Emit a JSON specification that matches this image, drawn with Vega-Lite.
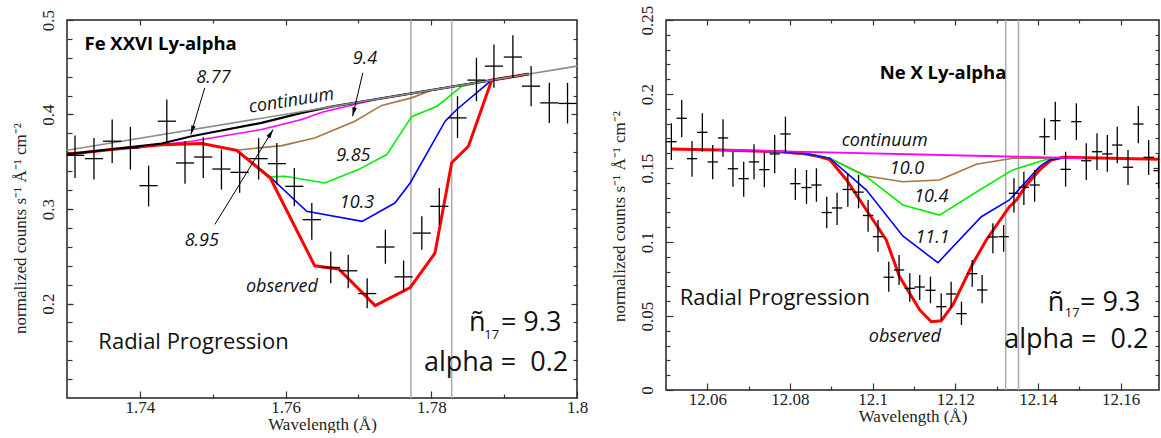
{
"$schema": "https://vega.github.io/schema/vega-lite/v6.json",
"padding": {"left": 10, "top": 4, "right": 0, "bottom": 0},
"spacing": 20,
"background": "white",
"config": {
  "view": {"stroke": "#222", "strokeWidth": 1.5},
  "axis": {"domain": false, "grid": false, "labelFont": "Liberation Serif", "titleFont": "Liberation Serif", "labelFontSize": 17, "titleFontSize": 17, "labelColor": "#222", "titleColor": "#222", "tickColor": "#333", "tickWidth": 1.2, "titleFontWeight": "normal", "labelFlush": false, "labelOverlap": false}
},
"datasets": {
  "fe_obs": [
    {"wl":1.7311,"wl0":1.72985,"wl1":1.73235,"v":0.3568,"lo":0.3328,"hi":0.3777},
    {"wl":1.7337,"wl0":1.73245,"wl1":1.73495,"v":0.3533,"lo":0.3311,"hi":0.3752},
    {"wl":1.7362,"wl0":1.73495,"wl1":1.73745,"v":0.3717,"lo":0.3487,"hi":0.3947},
    {"wl":1.7387,"wl0":1.73745,"wl1":1.73995,"v":0.3646,"lo":0.3417,"hi":0.3869},
    {"wl":1.7412,"wl0":1.73995,"wl1":1.74245,"v":0.3247,"lo":0.3028,"hi":0.3459},
    {"wl":1.7437,"wl0":1.74245,"wl1":1.74495,"v":0.3929,"lo":0.3699,"hi":0.4159},
    {"wl":1.7462,"wl0":1.74495,"wl1":1.74745,"v":0.3487,"lo":0.3268,"hi":0.3717},
    {"wl":1.7487,"wl0":1.74745,"wl1":1.74995,"v":0.3550,"lo":0.3328,"hi":0.3759},
    {"wl":1.7512,"wl0":1.74995,"wl1":1.75245,"v":0.3423,"lo":0.3205,"hi":0.3629},
    {"wl":1.7537,"wl0":1.75245,"wl1":1.75495,"v":0.3388,"lo":0.3173,"hi":0.3593},
    {"wl":1.7563,"wl0":1.75505,"wl1":1.75755,"v":0.3533,"lo":0.3311,"hi":0.3752},
    {"wl":1.7588,"wl0":1.75755,"wl1":1.76005,"v":0.3480,"lo":0.3258,"hi":0.3699},
    {"wl":1.7612,"wl0":1.75995,"wl1":1.76245,"v":0.3240,"lo":0.3028,"hi":0.3434},
    {"wl":1.7636,"wl0":1.76235,"wl1":1.76485,"v":0.2887,"lo":0.2675,"hi":0.3063},
    {"wl":1.7662,"wl0":1.76495,"wl1":1.76745,"v":0.2381,"lo":0.2214,"hi":0.2550},
    {"wl":1.7686,"wl0":1.76735,"wl1":1.76985,"v":0.2346,"lo":0.2161,"hi":0.2515},
    {"wl":1.7712,"wl0":1.76995,"wl1":1.77245,"v":0.2105,"lo":0.1949,"hi":0.2267},
    {"wl":1.7737,"wl0":1.77245,"wl1":1.77495,"v":0.2598,"lo":0.2420,"hi":0.2781},
    {"wl":1.7762,"wl0":1.77495,"wl1":1.77745,"v":0.2282,"lo":0.2126,"hi":0.2455},
    {"wl":1.7787,"wl0":1.77745,"wl1":1.77995,"v":0.2745,"lo":0.2568,"hi":0.2922},
    {"wl":1.7811,"wl0":1.77985,"wl1":1.78235,"v":0.3028,"lo":0.2834,"hi":0.3222},
    {"wl":1.7836,"wl0":1.78235,"wl1":1.78485,"v":0.3964,"lo":0.3752,"hi":0.4194},
    {"wl":1.7862,"wl0":1.78495,"wl1":1.78745,"v":0.4364,"lo":0.4141,"hi":0.4600},
    {"wl":1.7886,"wl0":1.78735,"wl1":1.78985,"v":0.4512,"lo":0.4282,"hi":0.4742},
    {"wl":1.7912,"wl0":1.78995,"wl1":1.79245,"v":0.4608,"lo":0.4388,"hi":0.4838},
    {"wl":1.7937,"wl0":1.79245,"wl1":1.79495,"v":0.4300,"lo":0.4088,"hi":0.4512},
    {"wl":1.7962,"wl0":1.79495,"wl1":1.79745,"v":0.4123,"lo":0.3911,"hi":0.4335},
    {"wl":1.7987,"wl0":1.79745,"wl1":1.79995,"v":0.4117,"lo":0.3905,"hi":0.4335}
  ],
  "fe_gray": [{"wl":1.73,"v":0.3621},{"wl":1.80,"v":0.4512}],
  "fe_black": [{"wl":1.7300,"v":0.3579},{"wl":1.7361,"v":0.3632},{"wl":1.7430,"v":0.3693},{"wl":1.7471,"v":0.3770},{"wl":1.7567,"v":0.3911},{"wl":1.7622,"v":0.4017},{"wl":1.7663,"v":0.4084},{"wl":1.7883,"v":0.4364},{"wl":1.7934,"v":0.4428}],
  "fe_magenta": [{"wl":1.7300,"v":0.3579},{"wl":1.7361,"v":0.3629},{"wl":1.7430,"v":0.3680},{"wl":1.7471,"v":0.3717},{"wl":1.7567,"v":0.3841},{"wl":1.7622,"v":0.3947},{"wl":1.7650,"v":0.4024},{"wl":1.7700,"v":0.4117},{"wl":1.7732,"v":0.4171},{"wl":1.7883,"v":0.4364},{"wl":1.7934,"v":0.4428}],
  "fe_brown": [{"wl":1.7300,"v":0.3579},{"wl":1.7361,"v":0.3629},{"wl":1.7430,"v":0.3680},{"wl":1.7485,"v":0.3693},{"wl":1.7533,"v":0.3621},{"wl":1.7549,"v":0.3635},{"wl":1.7595,"v":0.3671},{"wl":1.7640,"v":0.3752},{"wl":1.7695,"v":0.3929},{"wl":1.7732,"v":0.4096},{"wl":1.7773,"v":0.4176},{"wl":1.7801,"v":0.4259},{"wl":1.7883,"v":0.4364},{"wl":1.7934,"v":0.4428}],
  "fe_green": [{"wl":1.7300,"v":0.3579},{"wl":1.7361,"v":0.3629},{"wl":1.7430,"v":0.3680},{"wl":1.7485,"v":0.3693},{"wl":1.7533,"v":0.3621},{"wl":1.7579,"v":0.3340},{"wl":1.7599,"v":0.3346},{"wl":1.7654,"v":0.3275},{"wl":1.7700,"v":0.3417},{"wl":1.7739,"v":0.3576},{"wl":1.7773,"v":0.3977},{"wl":1.7808,"v":0.4088},{"wl":1.7842,"v":0.4300},{"wl":1.7883,"v":0.4364},{"wl":1.7934,"v":0.4428}],
  "fe_blue": [{"wl":1.7300,"v":0.3579},{"wl":1.7361,"v":0.3629},{"wl":1.7430,"v":0.3680},{"wl":1.7485,"v":0.3693},{"wl":1.7533,"v":0.3621},{"wl":1.7579,"v":0.3338},{"wl":1.7629,"v":0.2975},{"wl":1.7705,"v":0.2869},{"wl":1.7750,"v":0.3063},{"wl":1.7771,"v":0.3275},{"wl":1.7819,"v":0.3929},{"wl":1.7835,"v":0.4053},{"wl":1.7883,"v":0.4364},{"wl":1.7934,"v":0.4428}],
  "fe_red": [{"wl":1.7300,"v":0.3579},{"wl":1.7361,"v":0.3629},{"wl":1.7430,"v":0.3680},{"wl":1.7485,"v":0.3693},{"wl":1.7533,"v":0.3621},{"wl":1.7579,"v":0.3328},{"wl":1.7640,"v":0.2399},{"wl":1.7673,"v":0.2365},{"wl":1.7723,"v":0.1978},{"wl":1.7771,"v":0.2169},{"wl":1.7805,"v":0.2532},{"wl":1.7828,"v":0.3490},{"wl":1.7851,"v":0.3664},{"wl":1.7883,"v":0.4364},{"wl":1.7934,"v":0.4428}],
  "fe_vlines": [{"wl":1.7772},{"wl":1.7828}],
  "fe_arrows": [
    {"t":"8.77","wl":1.7489,"v":0.4282,"wl2":1.7470,"v2":0.3788},
    {"t":"8.95","wl":1.7503,"v":0.2837,"wl2":1.7583,"v2":0.3841},
    {"t":"9.4","wl":1.7706,"v":0.4441,"wl2":1.7692,"v2":0.3982}
  ],
  "fe_lab": [
    {"t":"8.77","wl":1.7501,"v":0.4385},
    {"t":"9.4","wl":1.7709,"v":0.4586},
    {"t":"9.85","wl":1.7693,"v":0.3558},
    {"t":"10.3","wl":1.7698,"v":0.3063},
    {"t":"8.95","wl":1.7485,"v":0.2664},
    {"t":"observed","wl":1.7595,"v":0.2179}
  ],
  "fe_cont": [{"t":"continuum","wl":1.7608,"v":0.4141}],
  "fe_title": [{"t":"Fe XXVI Ly-alpha","wl":1.7324,"v":0.4749}],
  "fe_radial": [{"t":"Radial Progression","wl":1.7343,"v":0.1596}],
  "fe_big": [{"t":"ñ","wl":1.7863,"v":0.1790},{"t":"= 9.3","wl":1.7937,"v":0.1790},{"t":"alpha = \u00a00.2","wl":1.7889,"v":0.1366}],
  "fe_sub": [{"t":"17","wl":1.7883,"v":0.1667}],
  "ne_obs": [
    {"wl":12.0513,"wl0":12.05005,"wl1":12.05255,"v":0.1678,"lo":0.1554,"hi":0.1802},
    {"wl":12.0538,"wl0":12.05255,"wl1":12.05505,"v":0.1836,"lo":0.1707,"hi":0.1959},
    {"wl":12.0563,"wl0":12.05505,"wl1":12.05755,"v":0.1563,"lo":0.1441,"hi":0.1682},
    {"wl":12.0588,"wl0":12.05755,"wl1":12.06005,"v":0.1741,"lo":0.1610,"hi":0.1870},
    {"wl":12.0613,"wl0":12.06005,"wl1":12.06255,"v":0.1541,"lo":0.1424,"hi":0.1655},
    {"wl":12.0638,"wl0":12.06255,"wl1":12.06505,"v":0.1703,"lo":0.1576,"hi":0.1829},
    {"wl":12.0662,"wl0":12.06495,"wl1":12.06745,"v":0.1495,"lo":0.1374,"hi":0.1610},
    {"wl":12.0688,"wl0":12.06755,"wl1":12.07005,"v":0.1428,"lo":0.1306,"hi":0.1543},
    {"wl":12.0713,"wl0":12.07005,"wl1":12.07255,"v":0.1541,"lo":0.1424,"hi":0.1660},
    {"wl":12.0738,"wl0":12.07255,"wl1":12.07505,"v":0.1489,"lo":0.1370,"hi":0.1603},
    {"wl":12.0763,"wl0":12.07505,"wl1":12.07755,"v":0.1595,"lo":0.1464,"hi":0.1723},
    {"wl":12.0789,"wl0":12.07765,"wl1":12.08015,"v":0.1730,"lo":0.1610,"hi":0.1847},
    {"wl":12.0813,"wl0":12.08005,"wl1":12.08255,"v":0.1394,"lo":0.1284,"hi":0.1498},
    {"wl":12.0840,"wl0":12.08275,"wl1":12.08525,"v":0.1368,"lo":0.1257,"hi":0.1487},
    {"wl":12.0864,"wl0":12.08515,"wl1":12.08765,"v":0.1385,"lo":0.1272,"hi":0.1498},
    {"wl":12.0889,"wl0":12.08765,"wl1":12.09015,"v":0.1199,"lo":0.1093,"hi":0.1306},
    {"wl":12.0914,"wl0":12.09015,"wl1":12.09265,"v":0.1230,"lo":0.1115,"hi":0.1333},
    {"wl":12.0940,"wl0":12.09275,"wl1":12.09525,"v":0.1355,"lo":0.1239,"hi":0.1464},
    {"wl":12.0966,"wl0":12.09535,"wl1":12.09785,"v":0.1337,"lo":0.1228,"hi":0.1453},
    {"wl":12.0989,"wl0":12.09765,"wl1":12.10015,"v":0.1179,"lo":0.1070,"hi":0.1284},
    {"wl":12.1013,"wl0":12.10005,"wl1":12.10255,"v":0.1036,"lo":0.0934,"hi":0.1149},
    {"wl":12.1039,"wl0":12.10265,"wl1":12.10515,"v":0.0762,"lo":0.0664,"hi":0.0867},
    {"wl":12.1064,"wl0":12.10515,"wl1":12.10765,"v":0.0811,"lo":0.0709,"hi":0.0912},
    {"wl":12.1090,"wl0":12.10775,"wl1":12.11025,"v":0.0687,"lo":0.0597,"hi":0.0789},
    {"wl":12.1114,"wl0":12.11015,"wl1":12.11265,"v":0.0696,"lo":0.0608,"hi":0.0777},
    {"wl":12.1140,"wl0":12.11275,"wl1":12.11525,"v":0.0674,"lo":0.0586,"hi":0.0766},
    {"wl":12.1166,"wl0":12.11535,"wl1":12.11785,"v":0.0563,"lo":0.0473,"hi":0.0653},
    {"wl":12.1190,"wl0":12.11775,"wl1":12.12025,"v":0.0649,"lo":0.0552,"hi":0.0732},
    {"wl":12.1215,"wl0":12.12025,"wl1":12.12275,"v":0.0516,"lo":0.0439,"hi":0.0597},
    {"wl":12.1241,"wl0":12.12285,"wl1":12.12535,"v":0.0786,"lo":0.0698,"hi":0.0878},
    {"wl":12.1265,"wl0":12.12525,"wl1":12.12775,"v":0.0676,"lo":0.0586,"hi":0.0777},
    {"wl":12.1291,"wl0":12.12785,"wl1":12.13035,"v":0.1034,"lo":0.0924,"hi":0.1126},
    {"wl":12.1317,"wl0":12.13045,"wl1":12.13295,"v":0.1036,"lo":0.0934,"hi":0.1115},
    {"wl":12.1342,"wl0":12.13295,"wl1":12.13545,"v":0.1329,"lo":0.1200,"hi":0.1430},
    {"wl":12.1366,"wl0":12.13535,"wl1":12.13785,"v":0.1370,"lo":0.1250,"hi":0.1475},
    {"wl":12.1392,"wl0":12.13795,"wl1":12.14045,"v":0.1385,"lo":0.1272,"hi":0.1487},
    {"wl":12.1416,"wl0":12.14035,"wl1":12.14285,"v":0.1711,"lo":0.1588,"hi":0.1836},
    {"wl":12.1442,"wl0":12.14295,"wl1":12.14545,"v":0.1820,"lo":0.1689,"hi":0.1948},
    {"wl":12.1467,"wl0":12.14545,"wl1":12.14795,"v":0.1491,"lo":0.1374,"hi":0.1610},
    {"wl":12.1493,"wl0":12.14805,"wl1":12.15055,"v":0.1813,"lo":0.1689,"hi":0.1937},
    {"wl":12.1517,"wl0":12.15045,"wl1":12.15295,"v":0.1549,"lo":0.1419,"hi":0.1667},
    {"wl":12.1543,"wl0":12.15305,"wl1":12.15555,"v":0.1610,"lo":0.1487,"hi":0.1734},
    {"wl":12.1568,"wl0":12.15555,"wl1":12.15805,"v":0.1595,"lo":0.1475,"hi":0.1723},
    {"wl":12.1592,"wl0":12.15795,"wl1":12.16045,"v":0.1655,"lo":0.1532,"hi":0.1779},
    {"wl":12.1618,"wl0":12.16055,"wl1":12.16305,"v":0.1505,"lo":0.1385,"hi":0.1622},
    {"wl":12.1643,"wl0":12.16305,"wl1":12.16555,"v":0.1797,"lo":0.1667,"hi":0.1919},
    {"wl":12.1668,"wl0":12.16555,"wl1":12.16805,"v":0.1572,"lo":0.1453,"hi":0.1689},
    {"wl":12.1692,"wl0":12.16795,"wl1":12.17045,"v":0.1482,"lo":0.1363,"hi":0.1588}
  ],
  "ne_magenta": [{"wl":12.0630,"v":0.1622},{"wl":12.1508,"v":0.1566}],
  "ne_brown": [{"wl":12.0630,"v":0.1622},{"wl":12.0775,"v":0.1610},{"wl":12.0840,"v":0.1595},{"wl":12.0896,"v":0.1566},{"wl":12.0985,"v":0.1446},{"wl":12.1073,"v":0.1407},{"wl":12.1162,"v":0.1419},{"wl":12.1251,"v":0.1525},{"wl":12.1339,"v":0.1566},{"wl":12.1508,"v":0.1566}],
  "ne_green": [{"wl":12.0630,"v":0.1622},{"wl":12.0775,"v":0.1610},{"wl":12.0840,"v":0.1595},{"wl":12.0896,"v":0.1566},{"wl":12.0985,"v":0.1441},{"wl":12.1073,"v":0.1250},{"wl":12.1162,"v":0.1182},{"wl":12.1259,"v":0.1351},{"wl":12.1339,"v":0.1487},{"wl":12.1416,"v":0.1554},{"wl":12.1436,"v":0.1566},{"wl":12.1508,"v":0.1566}],
  "ne_blue": [{"wl":12.0630,"v":0.1622},{"wl":12.0775,"v":0.1610},{"wl":12.0840,"v":0.1595},{"wl":12.0896,"v":0.1566},{"wl":12.0985,"v":0.1351},{"wl":12.1073,"v":0.1041},{"wl":12.1158,"v":0.0860},{"wl":12.1263,"v":0.1171},{"wl":12.1331,"v":0.1284},{"wl":12.1404,"v":0.1509},{"wl":12.1428,"v":0.1554},{"wl":12.1460,"v":0.1568},{"wl":12.1508,"v":0.1566}],
  "ne_red": [{"wl":12.0512,"v":0.1628},{"wl":12.0630,"v":0.1622},{"wl":12.0775,"v":0.1610},{"wl":12.0840,"v":0.1595},{"wl":12.0872,"v":0.1576},{"wl":12.0896,"v":0.1557},{"wl":12.0937,"v":0.1419},{"wl":12.0985,"v":0.1216},{"wl":12.1033,"v":0.1014},{"wl":12.1065,"v":0.0766},{"wl":12.1114,"v":0.0541},{"wl":12.1142,"v":0.0461},{"wl":12.1166,"v":0.0468},{"wl":12.1194,"v":0.0574},{"wl":12.1243,"v":0.0856},{"wl":12.1275,"v":0.1014},{"wl":12.1331,"v":0.1239},{"wl":12.1348,"v":0.1284},{"wl":12.1372,"v":0.1385},{"wl":12.1404,"v":0.1487},{"wl":12.1432,"v":0.1554},{"wl":12.1460,"v":0.1572},{"wl":12.1693,"v":0.1559}],
  "ne_vlines": [{"wl":12.1322},{"wl":12.1353}],
  "ne_lab": [
    {"t":"continuum","wl":12.1029,"v":0.1684},
    {"t":"10.0","wl":12.1083,"v":0.1491},
    {"t":"10.4","wl":12.1142,"v":0.1306},
    {"t":"11.1","wl":12.1145,"v":0.1025},
    {"t":"observed","wl":12.1078,"v":0.0360}
  ],
  "ne_title": [{"t":"Ne X Ly-alpha","wl":12.1017,"v":0.2140}],
  "ne_radial": [{"t":"Radial Progression","wl":12.0533,"v":0.0620}],
  "ne_big": [{"t":"ñ","wl":12.1444,"v":0.0586},{"t":"= 9.3","wl":12.1575,"v":0.0586},{"t":"alpha = \u00a00.2","wl":12.1493,"v":0.0338}],
  "ne_sub": [{"t":"17","wl":12.1483,"v":0.0518}]
},
"hconcat": [
  {
    "width": 510, "height": 378,
    "resolve": {"axis": {"x": "independent", "y": "independent"}},
    "layer": [
      {"data": {"name": "fe_vlines"}, "mark": {"type": "rule", "color": "#aaaaaa", "strokeWidth": 1.5},
       "encoding": {"x": {"field": "wl", "type": "quantitative", "scale": {"domain": [1.73, 1.8], "nice": false, "zero": false}, "axis": null}}},
      {"data": {"name": "fe_magenta"}, "mark": {"type": "line", "color": "#ff00ff", "strokeWidth": 1.6, "clip": true},
       "encoding": {
         "x": {"field": "wl", "type": "quantitative", "scale": {"domain": [1.73, 1.8], "nice": false, "zero": false}, "axis": {"orient": "top", "values": [1.74, 1.76, 1.78], "tickSize": -5, "labels": false, "title": null}},
         "y": {"field": "v", "type": "quantitative", "scale": {"domain": [0.1, 0.5], "nice": false, "zero": false}, "axis": {"orient": "right", "values": [0.2, 0.3, 0.4], "tickSize": -6, "labels": false, "title": null}}}},
      {"data": {"name": "fe_brown"}, "mark": {"type": "line", "color": "#a87440", "strokeWidth": 1.6, "clip": true},
       "encoding": {"x": {"field": "wl", "type": "quantitative", "scale": {"domain": [1.73, 1.8], "nice": false, "zero": false}, "axis": null}, "y": {"field": "v", "type": "quantitative", "scale": {"domain": [0.1, 0.5], "nice": false, "zero": false}, "axis": null}}},
      {"data": {"name": "fe_green"}, "mark": {"type": "line", "color": "#00ee00", "strokeWidth": 1.6, "clip": true},
       "encoding": {"x": {"field": "wl", "type": "quantitative", "scale": {"domain": [1.73, 1.8], "nice": false, "zero": false}, "axis": null}, "y": {"field": "v", "type": "quantitative", "scale": {"domain": [0.1, 0.5], "nice": false, "zero": false}, "axis": null}}},
      {"data": {"name": "fe_blue"}, "mark": {"type": "line", "color": "#0000ff", "strokeWidth": 1.6, "clip": true},
       "encoding": {"x": {"field": "wl", "type": "quantitative", "scale": {"domain": [1.73, 1.8], "nice": false, "zero": false}, "axis": null}, "y": {"field": "v", "type": "quantitative", "scale": {"domain": [0.1, 0.5], "nice": false, "zero": false}, "axis": null}}},
      {"data": {"name": "fe_red"}, "mark": {"type": "line", "color": "#ff0000", "strokeWidth": 3, "clip": true},
       "encoding": {"x": {"field": "wl", "type": "quantitative", "scale": {"domain": [1.73, 1.8], "nice": false, "zero": false}, "axis": null}, "y": {"field": "v", "type": "quantitative", "scale": {"domain": [0.1, 0.5], "nice": false, "zero": false}, "axis": null}}},
      {"data": {"name": "fe_black"}, "mark": {"type": "line", "color": "#000000", "strokeWidth": 2.2, "clip": true},
       "encoding": {"x": {"field": "wl", "type": "quantitative", "scale": {"domain": [1.73, 1.8], "nice": false, "zero": false}, "axis": null}, "y": {"field": "v", "type": "quantitative", "scale": {"domain": [0.1, 0.5], "nice": false, "zero": false}, "axis": null}}},
      {"data": {"name": "fe_gray"}, "mark": {"type": "line", "color": "#8c8c8c", "strokeWidth": 1.6, "clip": true},
       "encoding": {"x": {"field": "wl", "type": "quantitative", "scale": {"domain": [1.73, 1.8], "nice": false, "zero": false}, "axis": null}, "y": {"field": "v", "type": "quantitative", "scale": {"domain": [0.1, 0.5], "nice": false, "zero": false}, "axis": null}}},
      {"data": {"name": "fe_obs"}, "mark": {"type": "rule", "color": "#000000", "strokeWidth": 1.3, "clip": true},
       "encoding": {
         "x": {"field": "wl", "type": "quantitative", "scale": {"domain": [1.73, 1.8], "nice": false, "zero": false}, "axis": {"orient": "bottom", "values": [1.74, 1.76, 1.78, 1.8], "format": ".2~f", "tickSize": -7, "labelPadding": 8, "title": "Wavelength (Å)", "titlePadding": 1}},
         "y": {"field": "lo", "type": "quantitative", "scale": {"domain": [0.1, 0.5], "nice": false, "zero": false}, "axis": {"orient": "left", "values": [0.2, 0.3, 0.4, 0.5], "format": ".1f", "tickSize": -6, "labelAngle": -90, "labelAlign": "center", "labelBaseline": "bottom", "labelPadding": 16, "title": "normalized counts s⁻¹ Å⁻¹ cm⁻²", "titlePadding": 10, "titleY": 208}},
         "y2": {"field": "hi"}}},
      {"data": {"name": "fe_obs"}, "mark": {"type": "rule", "color": "#000000", "strokeWidth": 1.3, "clip": true},
       "encoding": {
         "x": {"field": "wl0", "type": "quantitative", "scale": {"domain": [1.73, 1.8], "nice": false, "zero": false}, "axis": {"orient": "bottom", "values": [1.75, 1.77, 1.79], "tickSize": -4, "labels": false, "title": null}},
         "x2": {"field": "wl1"},
         "y": {"field": "v", "type": "quantitative", "scale": {"domain": [0.1, 0.5], "nice": false, "zero": false}, "axis": {"orient": "left", "values": [0.12,0.14,0.16,0.18,0.2,0.22,0.24,0.26,0.28,0.3,0.32,0.34,0.36,0.38,0.4,0.42,0.44,0.46,0.48], "tickSize": -5, "labels": false, "title": null}}}},
      {"data": {"name": "fe_arrows"}, "mark": {"type": "rule", "color": "#000000", "strokeWidth": 1},
       "encoding": {"x": {"field": "wl", "type": "quantitative", "scale": {"domain": [1.73, 1.8], "nice": false, "zero": false}, "axis": null}, "x2": {"field": "wl2"}, "y": {"field": "v", "type": "quantitative", "scale": {"domain": [0.1, 0.5], "nice": false, "zero": false}, "axis": null}, "y2": {"field": "v2"}}},
      {"data": {"name": "fe_arrows"}, "transform": [{"filter": "datum.t == '8.77'"}], "mark": {"type": "point", "shape": "M0,0L0.45,1.8L-0.45,1.8Z", "filled": true, "color": "#000000", "opacity": 1, "size": 100, "angle": 197},
       "encoding": {"x": {"field": "wl2", "type": "quantitative", "scale": {"domain": [1.73, 1.8], "nice": false, "zero": false}, "axis": null}, "y": {"field": "v2", "type": "quantitative", "scale": {"domain": [0.1, 0.5], "nice": false, "zero": false}, "axis": null}}},
      {"data": {"name": "fe_arrows"}, "transform": [{"filter": "datum.t == '8.95'"}], "mark": {"type": "point", "shape": "M0,0L0.45,1.8L-0.45,1.8Z", "filled": true, "color": "#000000", "opacity": 1, "size": 100, "angle": 32},
       "encoding": {"x": {"field": "wl2", "type": "quantitative", "scale": {"domain": [1.73, 1.8], "nice": false, "zero": false}, "axis": null}, "y": {"field": "v2", "type": "quantitative", "scale": {"domain": [0.1, 0.5], "nice": false, "zero": false}, "axis": null}}},
      {"data": {"name": "fe_arrows"}, "transform": [{"filter": "datum.t == '9.4'"}], "mark": {"type": "point", "shape": "M0,0L0.45,1.8L-0.45,1.8Z", "filled": true, "color": "#000000", "opacity": 1, "size": 100, "angle": 193},
       "encoding": {"x": {"field": "wl2", "type": "quantitative", "scale": {"domain": [1.73, 1.8], "nice": false, "zero": false}, "axis": null}, "y": {"field": "v2", "type": "quantitative", "scale": {"domain": [0.1, 0.5], "nice": false, "zero": false}, "axis": null}}},
      {"data": {"name": "fe_lab"}, "mark": {"type": "text", "font": "Open Sans", "fontStyle": "italic", "fontSize": 18, "align": "center", "baseline": "middle", "color": "#111"},
       "encoding": {
         "x": {"field": "wl", "type": "quantitative", "scale": {"domain": [1.73, 1.8], "nice": false, "zero": false}, "axis": {"orient": "top", "values": [1.75, 1.77, 1.79], "tickSize": -3, "labels": false, "title": null}},
         "y": {"field": "v", "type": "quantitative", "scale": {"domain": [0.1, 0.5], "nice": false, "zero": false}, "axis": {"orient": "right", "values": [0.12,0.14,0.16,0.18,0.22,0.24,0.26,0.28,0.32,0.34,0.36,0.38,0.42,0.44,0.46,0.48], "tickSize": -4, "labels": false, "title": null}},
         "text": {"field": "t"}}},
      {"data": {"name": "fe_cont"}, "mark": {"type": "text", "font": "Open Sans", "fontStyle": "italic", "fontSize": 18, "align": "center", "baseline": "middle", "angle": 351, "color": "#111"},
       "encoding": {"x": {"field": "wl", "type": "quantitative", "scale": {"domain": [1.73, 1.8], "nice": false, "zero": false}, "axis": null}, "y": {"field": "v", "type": "quantitative", "scale": {"domain": [0.1, 0.5], "nice": false, "zero": false}, "axis": null}, "text": {"field": "t"}}},
      {"data": {"name": "fe_title"}, "mark": {"type": "text", "font": "Open Sans", "fontWeight": "bold", "fontSize": 18.5, "align": "left", "baseline": "middle", "color": "#000"},
       "encoding": {"x": {"field": "wl", "type": "quantitative", "scale": {"domain": [1.73, 1.8], "nice": false, "zero": false}, "axis": null}, "y": {"field": "v", "type": "quantitative", "scale": {"domain": [0.1, 0.5], "nice": false, "zero": false}, "axis": null}, "text": {"field": "t"}}},
      {"data": {"name": "fe_radial"}, "mark": {"type": "text", "font": "Open Sans", "fontSize": 22, "align": "left", "baseline": "middle", "color": "#111"},
       "encoding": {"x": {"field": "wl", "type": "quantitative", "scale": {"domain": [1.73, 1.8], "nice": false, "zero": false}, "axis": null}, "y": {"field": "v", "type": "quantitative", "scale": {"domain": [0.1, 0.5], "nice": false, "zero": false}, "axis": null}, "text": {"field": "t"}}},
      {"data": {"name": "fe_big"}, "mark": {"type": "text", "font": "Open Sans", "fontSize": 27, "align": "center", "baseline": "middle", "color": "#111"},
       "encoding": {"x": {"field": "wl", "type": "quantitative", "scale": {"domain": [1.73, 1.8], "nice": false, "zero": false}, "axis": null}, "y": {"field": "v", "type": "quantitative", "scale": {"domain": [0.1, 0.5], "nice": false, "zero": false}, "axis": null}, "text": {"field": "t"}}},
      {"data": {"name": "fe_sub"}, "mark": {"type": "text", "font": "Open Sans", "fontSize": 13, "align": "center", "baseline": "middle", "color": "#111"},
       "encoding": {"x": {"field": "wl", "type": "quantitative", "scale": {"domain": [1.73, 1.8], "nice": false, "zero": false}, "axis": null}, "y": {"field": "v", "type": "quantitative", "scale": {"domain": [0.1, 0.5], "nice": false, "zero": false}, "axis": null}, "text": {"field": "t"}}}
    ]
  },
  {
    "width": 493, "height": 370,
    "resolve": {"axis": {"x": "independent", "y": "independent"}},
    "layer": [
      {"data": {"name": "ne_vlines"}, "mark": {"type": "rule", "color": "#aaaaaa", "strokeWidth": 1.5},
       "encoding": {"x": {"field": "wl", "type": "quantitative", "scale": {"domain": [12.05, 12.1693], "nice": false, "zero": false}, "axis": null}}},
      {"data": {"name": "ne_red"}, "mark": {"type": "line", "color": "#ff0000", "strokeWidth": 3, "clip": true},
       "encoding": {
         "x": {"field": "wl", "type": "quantitative", "scale": {"domain": [12.05, 12.1693], "nice": false, "zero": false}, "axis": {"orient": "top", "values": [12.06, 12.08, 12.1, 12.12, 12.14, 12.16], "tickSize": -5, "labels": false, "title": null}},
         "y": {"field": "v", "type": "quantitative", "scale": {"domain": [0, 0.25], "nice": false, "zero": false}, "axis": {"orient": "right", "values": [0.05, 0.1, 0.15, 0.2], "tickSize": -6, "labels": false, "title": null}}}},
      {"data": {"name": "ne_brown"}, "mark": {"type": "line", "color": "#a87440", "strokeWidth": 1.6, "clip": true},
       "encoding": {"x": {"field": "wl", "type": "quantitative", "scale": {"domain": [12.05, 12.1693], "nice": false, "zero": false}, "axis": null}, "y": {"field": "v", "type": "quantitative", "scale": {"domain": [0, 0.25], "nice": false, "zero": false}, "axis": null}}},
      {"data": {"name": "ne_green"}, "mark": {"type": "line", "color": "#00ee00", "strokeWidth": 1.6, "clip": true},
       "encoding": {"x": {"field": "wl", "type": "quantitative", "scale": {"domain": [12.05, 12.1693], "nice": false, "zero": false}, "axis": null}, "y": {"field": "v", "type": "quantitative", "scale": {"domain": [0, 0.25], "nice": false, "zero": false}, "axis": null}}},
      {"data": {"name": "ne_blue"}, "mark": {"type": "line", "color": "#0000ff", "strokeWidth": 1.6, "clip": true},
       "encoding": {"x": {"field": "wl", "type": "quantitative", "scale": {"domain": [12.05, 12.1693], "nice": false, "zero": false}, "axis": null}, "y": {"field": "v", "type": "quantitative", "scale": {"domain": [0, 0.25], "nice": false, "zero": false}, "axis": null}}},
      {"data": {"name": "ne_magenta"}, "mark": {"type": "line", "color": "#ff00ff", "strokeWidth": 1.8, "clip": true},
       "encoding": {"x": {"field": "wl", "type": "quantitative", "scale": {"domain": [12.05, 12.1693], "nice": false, "zero": false}, "axis": null}, "y": {"field": "v", "type": "quantitative", "scale": {"domain": [0, 0.25], "nice": false, "zero": false}, "axis": null}}},
      {"data": {"name": "ne_obs"}, "mark": {"type": "rule", "color": "#000000", "strokeWidth": 1.3, "clip": true},
       "encoding": {
         "x": {"field": "wl", "type": "quantitative", "scale": {"domain": [12.05, 12.1693], "nice": false, "zero": false}, "axis": {"orient": "bottom", "values": [12.06, 12.08, 12.1, 12.12, 12.14, 12.16], "format": ".2~f", "tickSize": -7, "labelPadding": 8, "title": "Wavelength (Å)", "titlePadding": 1}},
         "y": {"field": "lo", "type": "quantitative", "scale": {"domain": [0, 0.25], "nice": false, "zero": false}, "axis": {"orient": "left", "values": [0, 0.05, 0.1, 0.15, 0.2, 0.25], "format": ".2~f", "tickSize": -7, "labelAngle": -90, "labelAlign": "center", "labelBaseline": "bottom", "labelPadding": 17, "title": "normalized counts s⁻¹ Å⁻¹ cm⁻²", "titlePadding": 10, "titleY": 196}},
         "y2": {"field": "hi"}}},
      {"data": {"name": "ne_obs"}, "mark": {"type": "rule", "color": "#000000", "strokeWidth": 1.3, "clip": true},
       "encoding": {
         "x": {"field": "wl0", "type": "quantitative", "scale": {"domain": [12.05, 12.1693], "nice": false, "zero": false}, "axis": {"orient": "bottom", "values": [12.07, 12.09, 12.11, 12.13, 12.15], "tickSize": -4, "labels": false, "title": null}},
         "x2": {"field": "wl1"},
         "y": {"field": "v", "type": "quantitative", "scale": {"domain": [0, 0.25], "nice": false, "zero": false}, "axis": {"orient": "left", "values": [0.01,0.02,0.03,0.04,0.06,0.07,0.08,0.09,0.11,0.12,0.13,0.14,0.16,0.17,0.18,0.19,0.21,0.22,0.23,0.24], "tickSize": -4, "labels": false, "title": null}}}},
      {"data": {"name": "ne_lab"}, "mark": {"type": "text", "font": "Open Sans", "fontStyle": "italic", "fontSize": 18, "align": "center", "baseline": "middle", "color": "#111"},
       "encoding": {
         "x": {"field": "wl", "type": "quantitative", "scale": {"domain": [12.05, 12.1693], "nice": false, "zero": false}, "axis": {"orient": "top", "values": [12.07, 12.09, 12.11, 12.13, 12.15], "tickSize": -3, "labels": false, "title": null}},
         "y": {"field": "v", "type": "quantitative", "scale": {"domain": [0, 0.25], "nice": false, "zero": false}, "axis": {"orient": "right", "values": [0.01,0.02,0.03,0.04,0.06,0.07,0.08,0.09,0.11,0.12,0.13,0.14,0.16,0.17,0.18,0.19,0.21,0.22,0.23,0.24], "tickSize": -4, "labels": false, "title": null}},
         "text": {"field": "t"}}},
      {"data": {"name": "ne_title"}, "mark": {"type": "text", "font": "Open Sans", "fontWeight": "bold", "fontSize": 18.5, "align": "left", "baseline": "middle", "color": "#000"},
       "encoding": {"x": {"field": "wl", "type": "quantitative", "scale": {"domain": [12.05, 12.1693], "nice": false, "zero": false}, "axis": null}, "y": {"field": "v", "type": "quantitative", "scale": {"domain": [0, 0.25], "nice": false, "zero": false}, "axis": null}, "text": {"field": "t"}}},
      {"data": {"name": "ne_radial"}, "mark": {"type": "text", "font": "Open Sans", "fontSize": 22, "align": "left", "baseline": "middle", "color": "#111"},
       "encoding": {"x": {"field": "wl", "type": "quantitative", "scale": {"domain": [12.05, 12.1693], "nice": false, "zero": false}, "axis": null}, "y": {"field": "v", "type": "quantitative", "scale": {"domain": [0, 0.25], "nice": false, "zero": false}, "axis": null}, "text": {"field": "t"}}},
      {"data": {"name": "ne_big"}, "mark": {"type": "text", "font": "Open Sans", "fontSize": 27, "align": "center", "baseline": "middle", "color": "#111"},
       "encoding": {"x": {"field": "wl", "type": "quantitative", "scale": {"domain": [12.05, 12.1693], "nice": false, "zero": false}, "axis": null}, "y": {"field": "v", "type": "quantitative", "scale": {"domain": [0, 0.25], "nice": false, "zero": false}, "axis": null}, "text": {"field": "t"}}},
      {"data": {"name": "ne_sub"}, "mark": {"type": "text", "font": "Open Sans", "fontSize": 13, "align": "center", "baseline": "middle", "color": "#111"},
       "encoding": {"x": {"field": "wl", "type": "quantitative", "scale": {"domain": [12.05, 12.1693], "nice": false, "zero": false}, "axis": null}, "y": {"field": "v", "type": "quantitative", "scale": {"domain": [0, 0.25], "nice": false, "zero": false}, "axis": null}, "text": {"field": "t"}}}
    ]
  }
]
}
